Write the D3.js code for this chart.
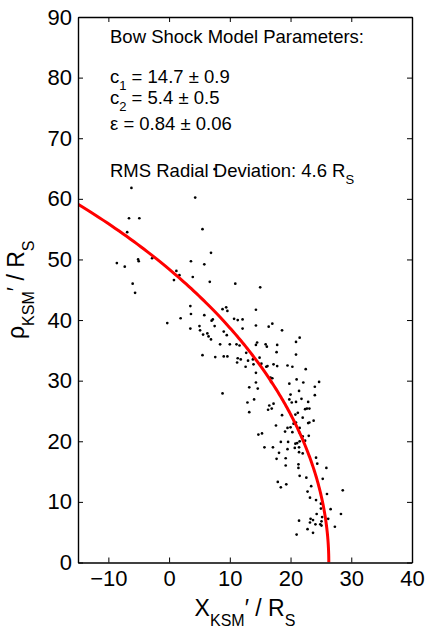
<!DOCTYPE html>
<html>
<head>
<meta charset="utf-8">
<script src="https://cdn.jsdelivr.net/npm/d3@7"></script>
<style>
  body { margin: 0; background: #fff; }
  svg text { font-family: "Liberation Sans", Arial, Helvetica, sans-serif; fill: #000; }
</style>
</head>
<body>
<div id="chart"></div>
<script>
// bow shock crossings, X' and rho' in R_S
var crossX = [
  -6.2, 4.3, -6.6, -4.9, 5.5, -6.9, 6.9, -8.6, -7.3, -5.1, -5.0, -2.8, 3.6, 5.8, 1.2, 1.7, 0.8, 3.9, 6.7, -6.0,
  -5.6, 3.5, 3.6, 5.8, 1.9, -0.3, 3.5, 5.0, 5.1, 5.6, 6.3, 6.5, 6.9, 7.0, 7.2, 5.5, 7.5,
  10.9, 15.0, 8.8, 9.4, 9.6, 14.3, 7.5, 10.7, 11.3, 12.1, 14.3, 17.0, 16.4, 18.6, 12.1, 9.0, 9.5, 8.4, 10.0,
  11.1, 11.6, 12.7, 14.3, 14.5, 15.9, 16.1, 17.8, 17.7, 7.6, 9.0, 9.6, 11.3, 11.8, 11.2, 13.0, 13.8, 14.9,
  12.6, 13.9, 15.2, 16.0, 16.2, 17.2, 17.8, 14.3, 16.7, 17.0, 16.8, 14.3, 13.2, 14.6, 8.8, 14.0,
  21.5, 20.9, 20.9, 19.5, 20.3, 22.5, 21.0, 22.1, 19.8, 24.7, 24.0, 21.4, 20.0, 24.0, 21.8, 19.8, 12.9,
  16.5, 17.2, 16.3, 16.9, 13.2, 20.2, 20.9, 22.9, 18.6, 20.8, 21.2, 22.0, 22.4, 22.7, 23.1, 17.6, 19.5, 20.0,
  20.5, 20.9, 21.5, 22.9, 23.1, 23.8, 19.1, 20.3, 21.5, 22.0, 23.0, 14.7, 15.3, 18.4, 19.6, 20.8, 21.1, 21.5,
  22.4, 20.7, 21.4, 15.7, 17.1, 19.5, 21.4, 22.0, 18.1, 17.7, 19.2, 24.2, 24.4, 19.2, 21.3, 21.3, 25.9, 21.5,
  22.6, 25.3, 17.9, 19.3, 18.4, 23.4, 22.8, 26.0, 28.6, 23.2, 24.2, 25.0, 25.0, 26.6, 24.3, 25.2, 28.3, 26.2,
  21.4, 23.3, 23.7, 25.1, 24.1, 24.9, 25.1, 23.2, 27.3, 22.8, 23.7, 21.0
];
var crossRho = [
  61.8, 60.2, 56.8, 56.8, 55.0, 54.5, 51.1, 49.4, 48.8, 50.0, 49.7, 50.2, 49.7, 49.2, 48.1, 47.4, 46.6, 47.1, 46.3, 46.0,
  44.5, 42.3, 41.0, 40.8, 40.3, 39.5, 38.6, 39.0, 38.3, 37.6, 37.8, 37.3, 36.8, 39.9, 40.1, 34.2, 64.9,
  46.0, 45.4, 41.8, 42.1, 41.5, 41.7, 39.0, 40.2, 40.0, 40.1, 39.1, 39.4, 38.9, 38.3, 38.6, 38.1, 37.5, 36.0, 36.0,
  36.0, 35.8, 34.6, 35.9, 36.3, 36.0, 35.6, 35.9, 34.7, 33.9, 34.0, 34.0, 33.7, 33.5, 33.0, 33.3, 33.5, 33.8,
  32.3, 32.7, 32.8, 32.3, 32.4, 32.7, 32.4, 31.3, 30.5, 30.4, 29.8, 29.7, 28.9, 28.7, 27.9, 26.9,
  37.1, 36.4, 34.3, 32.5, 32.3, 31.9, 30.2, 29.7, 29.5, 29.8, 29.0, 28.3, 27.7, 27.6, 27.0, 26.9, 26.4,
  25.9, 26.2, 25.2, 25.4, 24.8, 26.4, 26.5, 26.5, 24.3, 24.4, 24.7, 23.9, 25.3, 25.4, 25.4, 22.6, 22.2, 22.3,
  22.9, 23.1, 22.2, 23.0, 23.1, 23.4, 21.6, 21.5, 21.4, 20.8, 20.9, 21.1, 21.3, 19.9, 19.9, 19.6, 19.7, 20.0,
  20.1, 18.9, 19.0, 19.0, 19.0, 18.7, 18.2, 18.0, 18.1, 17.1, 17.2, 17.3, 16.3, 16.0, 16.2, 15.6, 15.6, 14.3,
  14.0, 13.8, 13.3, 12.9, 12.4, 12.6, 11.7, 11.3, 11.9, 10.7, 10.3, 9.7, 8.9, 8.8, 8.0, 7.5, 8.0, 7.2,
  6.9, 7.2, 7.0, 6.8, 6.3, 6.3, 6.1, 6.6, 5.9, 5.5, 4.9, 4.6
];

var xTicks = [-10, 0, 10, 20, 30, 40];
var yTicks = [0, 10, 20, 30, 40, 50, 60, 70, 80, 90];

// fitted conic r = L / (1 + eps cos theta), nose distance and flaring
var noseDist = 26.3;
var flaring = 0.84;

var fitLines = [
  { sym: 'c', sub: '1', rest: ' = 14.7 \u00b1 0.9' },
  { sym: 'c', sub: '2', rest: ' = 5.4 \u00b1 0.5' },
  { sym: '\u03b5', sub: '', rest: ' = 0.84 \u00b1 0.06' }
];

var width = 426, height = 629;
var margin = { top: 17, right: 14, bottom: 66.5, left: 78 };
var w = width - margin.left - margin.right;
var h = height - margin.top - margin.bottom;

var svg = d3.select('#chart').append('svg')
  .attr('width', width)
  .attr('height', height);

var g = svg.append('g')
  .attr('transform', 'translate(' + margin.left + ',' + margin.top + ')');

var x = d3.scaleLinear().domain([-15, 40]).range([0, w]);
var y = d3.scaleLinear().domain([0, 90]).range([h, 0]);

g.append('clipPath').attr('id', 'clip')
  .append('rect').attr('width', w).attr('height', h);

// dots
g.append('g').selectAll('circle')
  .data(crossX)
  .enter()
  .append('circle')
  .attr('cx', (d) => x(d))
  .attr('cy', (d, i) => y(crossRho[i]))
  .attr('r', 1.35)
  .attr('fill', '#000');

// model curve
var L = noseDist * (1 + flaring);
var curve = d3.range(0, 2.0, 0.01).map(function(t) {
  var r = L / (1 + flaring * Math.cos(t));
  return [r * Math.cos(t), r * Math.sin(t)];
});
g.append('path')
  .datum(curve)
  .attr('clip-path', 'url(#clip)')
  .attr('fill', 'none')
  .attr('stroke', '#ff0000')
  .attr('stroke-width', 3)
  .attr('d', d3.line().x((d) => x(d[0])).y((d) => y(d[1])));

// axes, ticks inside on all four sides
var axB = g.append('g').attr('transform', 'translate(0,' + h + ')')
  .call(d3.axisBottom(x).tickValues(xTicks).tickSizeInner(-5).tickSizeOuter(0).tickPadding(8));
var axT = g.append('g')
  .call(d3.axisTop(x).tickValues(xTicks).tickSizeInner(-5).tickSizeOuter(0).tickFormat(''));
var axL = g.append('g')
  .call(d3.axisLeft(y).tickValues(yTicks).tickSizeInner(-5).tickSizeOuter(0).tickPadding(6));
var axR = g.append('g').attr('transform', 'translate(' + w + ',0)')
  .call(d3.axisRight(y).tickValues(yTicks).tickSizeInner(-5).tickSizeOuter(0).tickFormat(''));

[axB, axT, axL, axR].forEach(function(a) {
  a.select('.domain').attr('stroke-width', 1.4);
  a.selectAll('text').attr('font-size', 22).attr('font-family', null);
});

// annotation block
var note = svg.append('g').attr('font-size', 18.5);
note.append('text').attr('x', 110).attr('y', 43).text('Bow Shock Model Parameters:');

var lineY = [83, 104, 130];
fitLines.forEach(function(p, i) {
  var t = note.append('text').attr('x', 110).attr('y', lineY[i]);
  t.append('tspan').text(p.sym);
  if (p.sub) {
    t.append('tspan').attr('font-size', 13).attr('dy', 7).text(p.sub);
    t.append('tspan').attr('dy', -7).text(p.rest);
  } else {
    t.append('tspan').text(p.rest);
  }
});

var rms = note.append('text').attr('x', 110).attr('y', 177);
rms.append('tspan').text('RMS Radial Deviation: 4.6 R');
rms.append('tspan').attr('font-size', 13).attr('dy', 7).text('S');

// axis titles
var xt = svg.append('text')
  .attr('x', margin.left + w / 2)
  .attr('y', 616)
  .attr('text-anchor', 'middle')
  .attr('font-size', 23);
xt.append('tspan').text('X');
xt.append('tspan').attr('font-size', 16).attr('dy', 10).text('KSM');
xt.append('tspan').attr('dy', -10).text('\u2032 / R');
xt.append('tspan').attr('font-size', 16).attr('dy', 10).text('S');

var yt = svg.append('text')
  .attr('transform', 'translate(24,' + (margin.top + h / 2) + ') rotate(-90)')
  .attr('text-anchor', 'middle')
  .attr('font-size', 23);
yt.append('tspan').text('\u03c1');
yt.append('tspan').attr('font-size', 16).attr('dy', 10).text('KSM');
yt.append('tspan').attr('dy', -10).text('\u2032 / R');
yt.append('tspan').attr('font-size', 16).attr('dy', 10).text('S');
</script>
</body>
</html>
